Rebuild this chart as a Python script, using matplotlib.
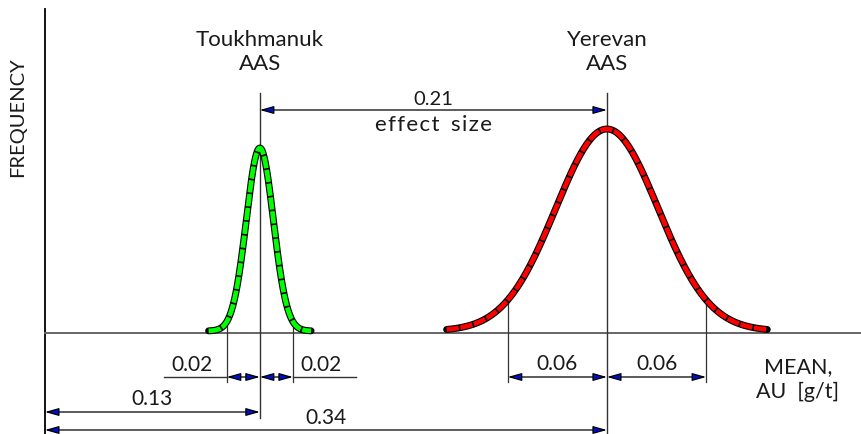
import numpy as np
import matplotlib.pyplot as plt

# values (x in AU g/t, y in arbitrary frequency units)
sites = ['Toukhmanuk\nAAS', 'Yerevan\nAAS']
means = [0.13, 0.34]
sds = [0.02, 0.06]
peak_freq = [183, 202]
shape_sigma = [0.0082, 0.031]   # width of the bell as drawn
tail_span = [0.031, 0.097]      # where each bell stops, +/- from the mean
curve_colors = ['#00ff00', '#ff0000']
effect_size = 0.21
sd_labels = ['0.02', '0.06']
mean_labels = ['0.13', '0.34']

plt.rcParams['font.family'] = ['Lato', 'DejaVu Sans']
plt.rcParams['text.color'] = '#1a1a1a'

fig = plt.figure(figsize=(8.61, 4.34), dpi=100)
ax = fig.add_axes([0, 0, 1, 1])
ax.set_xlim(-0.0272, 0.4937)
ax.set_ylim(-101, 333)
ax.axis('off')

ink = '#333333'
arrow_fc = '#0010c0'


def bell(x, i):
    return peak_freq[i] * np.exp(-0.5 * ((x - means[i]) / shape_sigma[i]) ** 2)


def dim(x0, x1, y):
    ax.annotate('', xy=(x1, y), xytext=(x0, y),
                arrowprops=dict(arrowstyle='<|-|>,head_length=0.6,head_width=0.17',
                                fc=arrow_fc, ec='black', lw=0.9,
                                shrinkA=0, shrinkB=0, mutation_scale=14))


# axes
ax.plot([0, 0], [-101, 324], color='black', lw=1.3)
ax.plot([0, 0.4937], [0, 0], color='#666666', lw=1.4)
ax.text(-0.0163, 216, 'FREQUENCY', rotation=90, ha='center', va='center', fontsize=14.5)
ax.text(0.4555, -47, 'MEAN,\nAU  [g/t]', ha='center', va='center', fontsize=15.5,
        linespacing=1.3)

# bells
for i in range(2):
    x = np.linspace(means[i] - tail_span[i], means[i] + tail_span[i], 200)
    y = bell(x, i) + 2
    ax.plot(x, y, color='black', lw=5.0, solid_capstyle='round', zorder=3)
    ax.plot(x, y, color=curve_colors[i], lw=3.4, dash_capstyle='butt',
            linestyle=(0, (2.6, 0.35)), zorder=4)
    ax.text(means[i], 281, sites[i], ha='center', va='center', fontsize=16,
            linespacing=1.25)

# extension lines
ax.plot([means[0], means[0]], [240, -85], color=ink, lw=1)
ax.plot([means[1], means[1]], [240, -100], color=ink, lw=1)
for i in range(2):
    for s in (-1, 1):
        xe = means[i] + s * sds[i]
        ax.plot([xe, xe], [bell(xe, i), -49], color=ink, lw=0.9)

# effect size
dim(means[0], means[1], 223)
mid = (means[0] + means[1]) / 2
ax.text(mid, 225, f'{effect_size:.2f}', ha='center', va='bottom', fontsize=14.5)
ax.text(mid, 218, 'e f f e c t   s i z e'.replace(' ', '\u200a').replace('\u200a\u200a\u200a', '  '),
        ha='center', va='top', fontsize=16)

# sd dimensions
y_sd = -44
for i in range(2):
    dim(means[i] - sds[i], means[i], y_sd)
    dim(means[i], means[i] + sds[i], y_sd)
# Toukhmanuk sd labels sit outside, on leaders
lead = 0.038
x_l = means[0] - sds[0]
x_r = means[0] + sds[0]
ax.plot([x_l - lead, x_l], [y_sd, y_sd], color=ink, lw=1)
ax.plot([x_r, x_r + lead], [y_sd, y_sd], color=ink, lw=1)
ax.text(x_l - lead / 2 - 0.002, y_sd + 2, sd_labels[0], ha='center', va='bottom', fontsize=15)
ax.text(x_r + lead / 2 - 0.002, y_sd + 2, sd_labels[0], ha='center', va='bottom', fontsize=15)
ax.text(means[1] - sds[1] / 2, y_sd + 3, sd_labels[1], ha='center', va='bottom', fontsize=15)
ax.text(means[1] + sds[1] / 2, y_sd + 3, sd_labels[1], ha='center', va='bottom', fontsize=15)

# means from zero
dim(0, means[0], -79)
ax.text(means[0] / 2, -76, mean_labels[0], ha='center', va='bottom', fontsize=15)
dim(0, means[1], -97)
ax.text(means[1] / 2, -95, mean_labels[1], ha='center', va='bottom', fontsize=15)

fig.savefig('out.png', dpi=100)
